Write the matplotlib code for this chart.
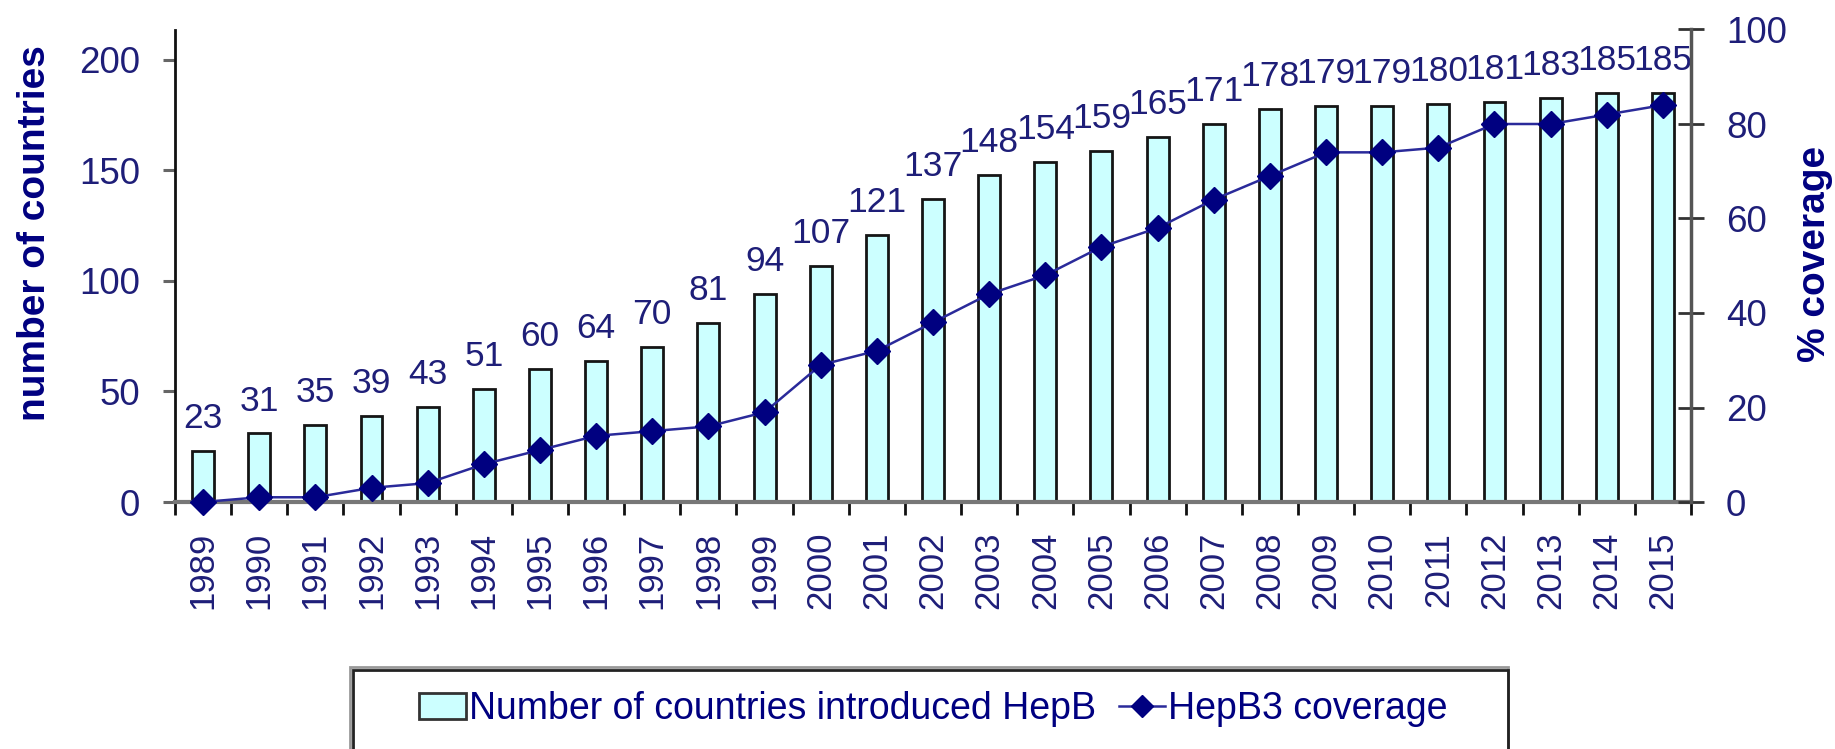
import matplotlib
matplotlib.use('Agg')
import matplotlib.pyplot as plt
import numpy as np
from matplotlib.patches import Rectangle, Patch
from matplotlib.lines import Line2D

plt.rcParams['font.family'] = ['Liberation Sans', 'DejaVu Sans']

# ---- data ----
years = ['1989', '1990', '1991', '1992', '1993', '1994', '1995', '1996', '1997',
         '1998', '1999', '2000', '2001', '2002', '2003', '2004', '2005', '2006',
         '2007', '2008', '2009', '2010', '2011', '2012', '2013', '2014', '2015']
countries = [23, 31, 35, 39, 43, 51, 60, 64, 70, 81, 94, 107, 121, 137, 148, 154,
             159, 165, 171, 178, 179, 179, 180, 181, 183, 185, 185]
coverage = [0, 1, 1, 3, 4, 8, 11, 14, 15, 16, 19, 29, 32, 38, 44, 48, 54, 58, 64,
            69, 74, 74, 75, 80, 80, 82, 84]
left_ticks = [0, 50, 100, 150, 200]
right_ticks = [0, 20, 40, 60, 80, 100]
bar_label = 'Number of countries introduced HepB'
line_label = 'HepB3 coverage'

navy = '#000080'
txt = '#1e1e78'
line_col = '#2a2a9a'
bar_fill = '#CCFFFF'

W, H = 1835, 749
fig = plt.figure(figsize=(W / 100, H / 100), dpi=100)
ax = fig.add_axes([175 / W, 1 - 502 / H, (1691 - 175) / W, (502 - 29.5) / H])

x = np.arange(len(years))
ax.bar(x, countries, width=0.39, color=bar_fill, edgecolor='#151515', linewidth=2, zorder=2)
for xi, v in zip(x, countries):
    ax.annotate(str(v), (xi, v), xytext=(0, 11.5), textcoords='offset points',
                ha='center', va='bottom', fontsize=25.5, color=txt)

ax.set_xlim(-0.5, len(years) - 0.5)
ax.set_ylim(0, 213.8)
ax.set_xticks(x)
ax.set_xticklabels(years, rotation=90, fontsize=25, color=txt)
ax.set_xticks(np.arange(len(years) + 1) - 0.5, minor=True)
ax.tick_params(axis='x', which='major', length=0, pad=21.5)
ax.tick_params(axis='x', which='minor', length=9.4, width=2, color='#111111', direction='out')
ax.set_yticks(left_ticks)
ax.set_yticklabels([str(t) for t in left_ticks], fontsize=26.5, color=txt)
ax.tick_params(axis='y', length=8.6, width=2.2, color='#666666', direction='out', pad=16.5)

ax.spines['top'].set_visible(False)
ax.spines['right'].set_visible(False)
ax.spines['left'].set_color('#111111')
ax.spines['left'].set_linewidth(2)
ax.spines['bottom'].set_color('#777777')
ax.spines['bottom'].set_linewidth(3)

ax2 = ax.twinx()
ax2.plot(x, coverage, color=line_col, linewidth=1.8, marker='D', markersize=13.5,
         markerfacecolor=navy, markeredgecolor=navy, zorder=3, clip_on=False)
ax2.set_ylim(0, 100)
ax2.set_yticks(right_ticks)
ax2.set_yticklabels([str(t) for t in right_ticks], fontsize=26.5, color=txt)
ax2.tick_params(axis='y', length=18.7, width=2, color='#333333', direction='inout', pad=15.8)
ax2.spines['top'].set_visible(False)
ax2.spines['left'].set_visible(False)
ax2.spines['bottom'].set_visible(False)
ax2.spines['right'].set_color('#555555')
ax2.spines['right'].set_linewidth(2.5)

fig.text(35 / W, 1 - 233 / H, 'number of countries', rotation=90, ha='center', va='center',
         fontsize=28, fontweight='bold', color=navy)
fig.text(1815 / W, 1 - 254 / H, '% coverage', rotation=90, ha='center', va='center',
         fontsize=28, fontweight='bold', color=navy)

# legend
handles = [Patch(facecolor=bar_fill, edgecolor='#333333', linewidth=2),
           Line2D([], [], color=line_col, linewidth=1.8, marker='D', markersize=11,
                  markerfacecolor=navy, markeredgecolor=navy)]
leg = fig.legend(handles, [bar_label, line_label], loc='center left',
                 bbox_to_anchor=(419 / W, 1 - 709 / H), bbox_transform=fig.transFigure,
                 ncol=2, frameon=False, fontsize=27, handlelength=1.25,
                 handletextpad=0.08, columnspacing=0.6, borderpad=0, borderaxespad=0)
for t in leg.get_texts():
    t.set_color(navy)
fig.patches.append(Rectangle((353 / W, -0.05), (1508 - 353) / W, 1 - 670 / H + 0.05,
                             transform=fig.transFigure, fill=False, edgecolor='#222222',
                             linewidth=2, clip_on=False))
fig.patches.append(Rectangle((350 / W, -0.05), (1508 - 350) / W, 1 - 667 / H + 0.05,
                             transform=fig.transFigure, fill=False, edgecolor='#999999',
                             linewidth=2, clip_on=False, zorder=0))

fig.savefig('out.png', dpi=100)
